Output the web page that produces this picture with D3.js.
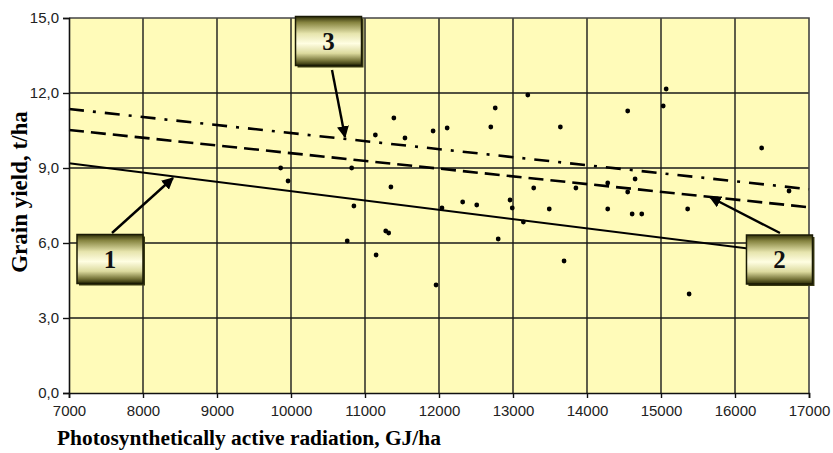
<!DOCTYPE html>
<html>
<head>
<meta charset="utf-8">
<script src="https://cdn.jsdelivr.net/npm/d3@7"></script>
<style>
  body { margin: 0; background: #ffffff; }
  #chart { width: 833px; height: 453px; }
</style>
</head>
<body>
<div id="chart"></div>
<script>
// PAR, GJ/ha and grain yield, t/ha
var parValues = [9860, 9960, 10760, 10820, 10850, 11140, 11150, 11280, 11320, 11350,
	11390, 11540, 11920, 11960, 12040, 12110, 12320, 12510, 12700, 12760,
	12800, 12960, 12990, 13140, 13200, 13280, 13490, 13640, 13690, 13850,
	14280, 14280, 14550, 14550, 14610, 14650, 14740, 15030, 15070, 15360,
	15380, 16360, 16730]
var yieldValues = [9.0, 8.48, 6.08, 9.0, 7.48, 10.32, 5.52, 6.48, 6.4, 8.24,
	11.0, 10.2, 10.48, 4.32, 7.4, 10.6, 7.64, 7.52, 10.64, 11.4,
	6.16, 7.72, 7.4, 6.84, 11.92, 8.2, 7.36, 10.64, 5.28, 8.2,
	8.4, 7.36, 11.28, 8.04, 7.16, 8.56, 7.16, 11.48, 12.16, 7.36,
	3.96, 9.8, 8.08]

// trend lines, values at both ends of the x range
var trendX = [7000, 17000]
var trend1 = [9.19, 5.47]
var trend2 = [10.52, 7.43]
var trend3 = [11.36, 8.15]

var xTicks = [7000, 8000, 9000, 10000, 11000, 12000, 13000, 14000, 15000, 16000, 17000]
var yTicks = [0, 3, 6, 9, 12, 15]

// callouts: label, box centre, arrow start, arrow tip (data units)
var calloutLabels = ["1", "2", "3"]
var calloutBox = [[7554, 5.36], [16601, 5.34], [10507, 14.08]]
var arrowFrom = [[7581, 6.4], [16608, 6.4], [10554, 12.92]]
var arrowTo = [[8405, 8.6], [15662, 7.84], [10730, 10.24]]

var margin = { top: 18, left: 69, right: 24, bottom: 60 }
var width = 833 - margin.left - margin.right
var height = 453 - margin.top - margin.bottom

var svg = d3.select("#chart")
	.append("svg")
	.attr("width", 833)
	.attr("height", 453)

var defs = svg.append("defs")
var grad = defs.append("linearGradient")
	.attr("id", "boxgrad")
	.attr("x1", 0).attr("y1", 0).attr("x2", 0).attr("y2", 1)
var stops = [[0, "#2e2e08"], [0.12, "#85833f"], [0.35, "#e6e4ad"], [0.55, "#fffee2"],
	[0.75, "#dcda9e"], [0.9, "#77753a"], [1, "#2a2a06"]]
stops.forEach(function(s) {
	grad.append("stop").attr("offset", s[0]).attr("stop-color", s[1])
})
defs.append("marker")
	.attr("id", "head")
	.attr("viewBox", "0 0 10 10")
	.attr("refX", 9).attr("refY", 5)
	.attr("markerWidth", 5).attr("markerHeight", 5)
	.attr("markerUnits", "strokeWidth")
	.attr("orient", "auto")
	.append("path")
	.attr("d", "M0,0L10,5L0,10Z")
	.attr("fill", "#000")

var g = svg.append("g")
	.attr("transform", "translate(" + margin.left + "," + margin.top + ")")

var x = d3.scaleLinear().domain([7000, 17000]).range([0, width])
var y = d3.scaleLinear().domain([0, 15]).range([height, 0])

g.append("rect")
	.attr("width", width)
	.attr("height", height)
	.attr("fill", "#fffbb9")

// grid
g.selectAll(".vgrid")
	.data(xTicks.slice(1, -1))
	.enter().append("line")
	.attr("x1", function(d) { return x(d) })
	.attr("x2", function(d) { return x(d) })
	.attr("y1", 0).attr("y2", height)
	.attr("stroke", "#1a1a1a").attr("stroke-width", 1.4)

g.selectAll(".hgrid")
	.data(yTicks.slice(1, -1))
	.enter().append("line")
	.attr("y1", function(d) { return y(d) })
	.attr("y2", function(d) { return y(d) })
	.attr("x1", 0).attr("x2", width)
	.attr("stroke", "#1a1a1a").attr("stroke-width", 1.4)

// frame top / right
g.append("path")
	.attr("d", "M0,0H" + width + "V" + height)
	.attr("fill", "none")
	.attr("stroke", "#444").attr("stroke-width", 1.6)

var line = d3.line()
	.x(function(d) { return x(d[0]) })
	.y(function(d) { return y(d[1]) })

function trend(vals) { return trendX.map(function(v, i) { return [v, vals[i]] }) }

g.append("path")
	.attr("d", line(trend(trend1)))
	.attr("fill", "none").attr("stroke", "#000").attr("stroke-width", 2)
g.append("path")
	.attr("d", line(trend(trend2)))
	.attr("fill", "none").attr("stroke", "#000").attr("stroke-width", 2.6)
	.attr("stroke-dasharray", "15,7")
g.append("path")
	.attr("d", line(trend(trend3)))
	.attr("fill", "none").attr("stroke", "#000").attr("stroke-width", 2.6)
	.attr("stroke-dasharray", "15,9,3,9")

g.selectAll(".dot")
	.data(parValues)
	.enter().append("circle")
	.attr("cx", function(d) { return x(d) })
	.attr("cy", function(d, i) { return y(yieldValues[i]) })
	.attr("r", 2.4)
	.attr("fill", "#000")

// axes
var yAxis = g.append("g")
	.call(d3.axisLeft(y).tickValues(yTicks).tickSize(6).tickPadding(4)
		.tickFormat(function(d) { return d3.format(".1f")(d).replace(".", ",") }))
var xAxis = g.append("g")
	.attr("transform", "translate(0," + height + ")")
	.call(d3.axisBottom(x).tickValues(xTicks).tickSize(5).tickPadding(7)
		.tickFormat(d3.format("d")))

;[yAxis, xAxis].forEach(function(a) {
	a.select(".domain").attr("stroke", "#111").attr("stroke-width", 1.6)
	a.selectAll(".tick line").attr("stroke", "#111").attr("stroke-width", 1.4)
	a.selectAll("text")
		.attr("fill", "#222")
		.style("font-family", "'Liberation Sans', Arial, sans-serif")
		.style("font-size", "15px")
})

// arrows
g.selectAll(".arrow")
	.data(arrowFrom)
	.enter().append("line")
	.attr("x1", function(d) { return x(d[0]) })
	.attr("y1", function(d) { return y(d[1]) })
	.attr("x2", function(d, i) { return x(arrowTo[i][0]) })
	.attr("y2", function(d, i) { return y(arrowTo[i][1]) })
	.attr("stroke", "#000").attr("stroke-width", 2.4)
	.attr("marker-end", "url(#head)")

// callout boxes
var bw = 66, bh = 49
var boxes = g.selectAll(".callout")
	.data(calloutLabels)
	.enter().append("g")
	.attr("transform", function(d, i) {
		return "translate(" + x(calloutBox[i][0]) + "," + y(calloutBox[i][1]) + ")"
	})
boxes.append("rect")
	.attr("x", -bw / 2 + 2).attr("y", -bh / 2 + 2)
	.attr("width", bw).attr("height", bh)
	.attr("fill", "#3a3a12")
boxes.append("rect")
	.attr("x", -bw / 2).attr("y", -bh / 2)
	.attr("width", bw).attr("height", bh)
	.attr("fill", "url(#boxgrad)")
	.attr("stroke", "#1a1a05").attr("stroke-width", 1.5)
boxes.append("text")
	.attr("text-anchor", "middle")
	.attr("dy", "0.35em")
	.style("font-family", "'Liberation Serif', 'Times New Roman', serif")
	.style("font-weight", "bold")
	.style("font-size", "25px")
	.attr("fill", "#111")
	.text(function(d) { return d })

// titles
svg.append("text")
	.attr("transform", "translate(27," + 192 + ") rotate(-90)")
	.attr("text-anchor", "middle")
	.style("font-family", "'Liberation Serif', 'Times New Roman', serif")
	.style("font-weight", "bold")
	.style("font-size", "23px")
	.attr("fill", "#000")
	.text("Grain yield, t/ha")

svg.append("text")
	.attr("x", 57).attr("y", 445)
	.style("font-family", "'Liberation Serif', 'Times New Roman', serif")
	.style("font-weight", "bold")
	.style("font-size", "21.4px")
	.attr("fill", "#000")
	.text("Photosynthetically active radiation, GJ/ha")
</script>
</body>
</html>
